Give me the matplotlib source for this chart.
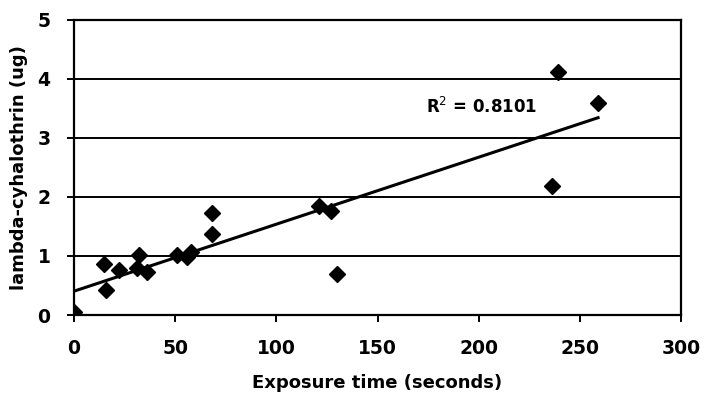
import numpy as np
import matplotlib
matplotlib.use("Agg")
import matplotlib.pyplot as plt

plt.rcParams['font.family'] = ['DejaVu Sans']

exposure_s = [0, 15, 16, 22, 31, 32, 36, 51, 56, 58, 68, 68, 121, 127, 130, 236, 239, 259]
lambda_ug = [0.05, 0.87, 0.42, 0.76, 0.80, 1.02, 0.73, 1.02, 0.98, 1.06, 1.73, 1.38, 1.85, 1.76, 0.69, 2.19, 4.12, 3.60]
x_ticks = [0, 50, 100, 150, 200, 250, 300]
y_ticks = [0, 1, 2, 3, 4, 5]
r2_label = "R$^2$ = 0.8101"

fig = plt.figure(figsize=(7.05, 3.98), dpi=100)
ax = fig.add_axes([0.105, 0.2085, 0.861, 0.7415])

x = np.array(exposure_s, dtype=float)
y = np.array(lambda_ug, dtype=float)
slope, intercept = np.polyfit(x, y, 1)
xf = np.array([0, x.max()])
ax.plot(xf, slope * xf + intercept, color='black', lw=2.2, zorder=3)

ax.plot(x, y, linestyle='none', marker='D', ms=8, color='black', zorder=4)

ax.set_xlim(0, 300)
ax.set_ylim(0, 5)
ax.set_xticks(x_ticks)
ax.set_yticks(y_ticks)
for yt in y_ticks[1:]:
    ax.axhline(yt, color='black', lw=1.4, zorder=1)
for s in ax.spines.values():
    s.set_linewidth(1.6)
    s.set_color('black')
ax.tick_params(axis='both', direction='out', length=5, width=1.4, labelsize=13.5)
ax.tick_params(axis='x', pad=12)
ax.tick_params(axis='y', pad=12)
for lab in ax.get_xticklabels() + ax.get_yticklabels():
    lab.set_fontweight('bold')

ax.set_xlabel("Exposure time (seconds)", fontsize=13, fontweight='bold', labelpad=12)
ax.set_ylabel("lambda-cyhalothrin (ug)", fontsize=13, fontweight='bold', labelpad=7)
ax.text(201.5, 3.53, r2_label, fontsize=12, fontweight='bold', ha='center', va='center')

fig.savefig("out.png", dpi=100)
